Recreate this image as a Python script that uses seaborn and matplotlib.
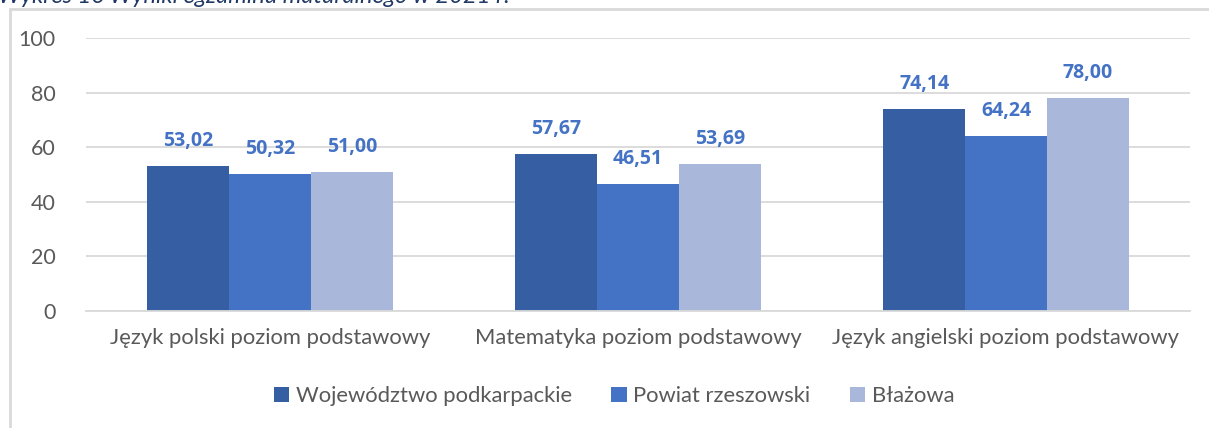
import matplotlib
matplotlib.use("Agg")
import matplotlib.pyplot as plt
import seaborn as sns
import pandas as pd
from matplotlib.patches import Rectangle

categories = ["Język polski poziom podstawowy", "Matematyka poziom podstawowy",
              "Język angielski poziom podstawowy"]
series = ["Województwo podkarpackie", "Powiat rzeszowski", "Błażowa"]
wojewodztwo = [53.02, 57.67, 74.14]
powiat = [50.32, 46.51, 64.24]
blazowa = [51.00, 53.69, 78.00]
yticks = [0, 20, 40, 60, 80, 100]
title = "Wykres 16 Wyniki egzaminu maturalnego w 2021 r."

colors = ["#355EA3", "#4473C5", "#A9B7DB"]
label_color = "#4472C4"
text_color = "#595959"

rows = []
for s, vals in zip(series, [wojewodztwo, powiat, blazowa]):
    for c, v in zip(categories, vals):
        rows.append({"cat": c, "series": s, "val": v})
df = pd.DataFrame(rows)

sns.set_theme(style="white")
plt.rcParams["font.family"] = ["Lato", "DejaVu Sans"]

fig = plt.figure(figsize=(12.09, 4.28), dpi=100)
ax = fig.add_axes([86/1209, 1-311/428, (1190-86)/1209, (311-38)/428])

sns.barplot(data=df, x="cat", y="val", hue="series", palette=colors,
            width=0.667, ax=ax, saturation=1, edgecolor="none", linewidth=0)

ax.set_ylim(0, 100)
ax.set_yticks(yticks)
ax.set_yticklabels([str(t) for t in yticks])
ax.set_xlim(-0.5, 2.5)
ax.set_xlabel("")
ax.set_ylabel("")
ax.yaxis.grid(True, color="#D9D9D9", linewidth=1.3)
ax.set_axisbelow(True)
for sp in ["left", "right", "top"]:
    ax.spines[sp].set_visible(False)
ax.spines["bottom"].set_color("#D9D9D9")
ax.spines["bottom"].set_linewidth(1.3)
ax.tick_params(axis="y", length=0, pad=22, labelsize=15.5, labelcolor=text_color)
ax.tick_params(axis="x", length=0, pad=12, labelsize=15.8, labelcolor=text_color)

for cont in ax.containers:
    for bar in cont:
        h = bar.get_height()
        ax.annotate(f"{h:.2f}".replace(".", ","),
                    (bar.get_x() + bar.get_width()/2, h),
                    xytext=(0, 25), textcoords="offset pixels",
                    ha="center", va="center", fontsize=14, fontweight="bold",
                    family=["Open Sans", "DejaVu Sans"],
                    color=label_color)

leg = ax.legend(loc="center", bbox_to_anchor=((614-86)/1104, (1-396/428 - (1-311/428)) / ((311-38)/428)),
                ncol=3, frameon=False, fontsize=15.8, handlelength=0.7, handleheight=0.7,
                handletextpad=0.3, columnspacing=1.8, labelcolor=text_color)

fig.text(-2/1209, 1-3/428, title, fontsize=17, fontstyle="italic",
         color="#1F3864", va="baseline", ha="left")

rect = Rectangle((10/1209, -0.1), 1.2, 1 - 9/428 + 0.1, transform=fig.transFigure,
                 fill=False, edgecolor="#D9D9D9", linewidth=2, clip_on=False)
fig.patches.append(rect)

fig.savefig("out.png", dpi=100)
